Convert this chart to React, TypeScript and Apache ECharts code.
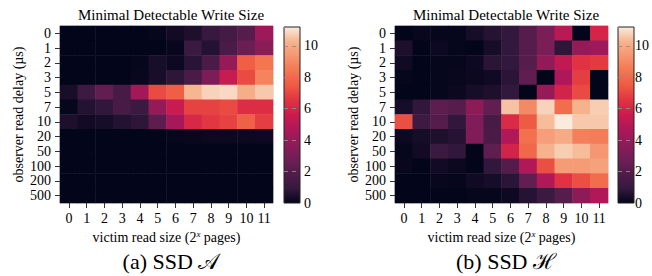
import React, { useEffect, useRef } from 'react';
import * as echarts from 'echarts';

const xLabels = ['0', '1', '2', '3', '4', '5', '6', '7', '8', '9', '10', '11'];
const yLabels = ['0', '1', '2', '3', '5', '7', '10', '20', '50', '100', '200', '500'];
const colorbarTicks = [0, 2, 4, 6, 8, 10];

const ssdA: number[][] = [
  [0, 0, 0, 0, 0, 0.05, 0.3, 0.5, 1.0, 1.4, 2.0, 4.2],
  [0, 0, 0, 0, 0, 0, 0.1, 1.1, 0.6, 1.6, 2.6, 3.6],
  [0, 0, 0, 0, 0.05, 0.4, 0.2, 0.7, 1.6, 4.0, 7.6, 8.4],
  [0, 0, 0, 0, 0.1, 0.4, 0.8, 1.6, 3.2, 5.5, 7.1, 8.8],
  [0.4, 1.2, 2.4, 1.5, 4.4, 7.1, 7.6, 10.3, 10.8, 10.9, 10.1, 10.6],
  [0.05, 0.6, 0.85, 1.5, 1.1, 3.9, 5.5, 6.9, 6.9, 7.1, 6.3, 6.3],
  [0.5, 0.3, 0.35, 0.6, 0.8, 2.2, 4.5, 6.1, 6.6, 6.9, 7.7, 6.8],
  [0, 0, 0, 0, 0, 0, 0.05, 0.1, 0.15, 0.15, 0.15, 0.2],
  [0, 0, 0, 0, 0, 0, 0, 0, 0, 0, 0, 0],
  [0, 0, 0, 0, 0, 0, 0, 0, 0, 0, 0, 0],
  [0, 0, 0, 0, 0, 0, 0, 0, 0, 0, 0, 0],
  [0, 0, 0, 0, 0, 0, 0, 0, 0, 0, 0, 0],
];

const ssdH: number[][] = [
  [0, 0.1, 0.05, 0.05, 0.35, 0.65, 0.9, 2.0, 3.2, 5.1, 0, 6.0],
  [0.5, 0, 0.2, 0.05, 0, 0.35, 0.9, 2.0, 3.1, 0.8, 3.9, 4.2],
  [0.25, 0, 0.05, 0.05, 0.2, 0.75, 0.9, 2.0, 3.8, 5.3, 6.5, 6.7],
  [0.05, 0, 0.05, 0.1, 0.15, 0.25, 0.75, 2.3, 0, 4.7, 6.8, 0],
  [0, 0, 0.05, 0.15, 0.35, 0.5, 0.9, 0, 3.9, 5.9, 7.1, 0],
  [0.35, 0.85, 2.2, 2.0, 3.7, 2.4, 10.5, 9.0, 10.8, 8.1, 10.2, 10.7],
  [7.2, 1.2, 2.0, 0.85, 3.3, 1.5, 6.2, 7.5, 10.4, 11.2, 10.6, 10.6],
  [0.2, 0.35, 0.5, 0.65, 3.3, 1.6, 4.8, 8.2, 9.6, 10.0, 8.7, 8.6],
  [0.05, 0.3, 1.1, 0.85, 0, 2.3, 5.9, 7.9, 10.2, 10.7, 10.4, 9.4],
  [0.1, 0, 0.3, 0.15, 0, 0.85, 1.9, 4.8, 7.2, 9.5, 9.5, 9.7],
  [0, 0, 0.1, 0.05, 0.25, 0.35, 0.75, 2.4, 4.8, 6.5, 7.2, 8.1],
  [0, 0, 0, 0, 0.05, 0.05, 0.2, 0.65, 1.1, 2.0, 3.7, 4.8],
];

const vMax = 11.2;

const rocket = [
  '#03051A', '#35193E', '#521C4A', '#701F57', '#8E1B58', '#AD1759', '#CB1B4F',
  '#E13342', '#EE5A43', '#F37651', '#F59570', '#F6B48F', '#FAEBDD',
];

const serif = 'Liberation Serif';

function toCells(m: number[][]) {
  const out: number[][] = [];
  m.forEach((row, yi) => row.forEach((v, xi) => out.push([xi, yi, v])));
  return out;
}

function heatX(gi: number) {
  return {
    type: 'category',
    gridIndex: gi,
    data: xLabels,
    position: 'bottom',
    axisLine: { show: false },
    axisTick: { show: true, alignWithLabel: true, length: 5, lineStyle: { color: '#333' } },
    axisLabel: { fontFamily: serif, fontSize: 14, color: '#000', margin: 8, interval: 0 },
    splitLine: { show: false },
    name: 'victim read size (2{sup|x} pages)',
    nameLocation: 'middle',
    nameGap: 26,
    nameTextStyle: {
      fontFamily: serif,
      fontSize: 14,
      color: '#000',
      rich: {
        sup: { fontFamily: serif, fontSize: 9, fontStyle: 'italic', color: '#000', verticalAlign: 'top', lineHeight: 16 },
      },
    },
  };
}

function heatY(gi: number) {
  return {
    type: 'category',
    gridIndex: gi,
    data: yLabels,
    inverse: true,
    axisLine: { show: false },
    axisTick: { show: true, alignWithLabel: true, length: 5, lineStyle: { color: '#333' } },
    axisLabel: { fontFamily: serif, fontSize: 14, color: '#000', margin: 9, interval: 0 },
    splitLine: { show: false },
    name: 'observer read delay (µs)',
    nameLocation: 'middle',
    nameGap: 35,
    nameRotate: 90,
    nameTextStyle: { fontFamily: serif, fontSize: 14, color: '#000' },
  };
}

function cbarY(gi: number) {
  return {
    type: 'value',
    gridIndex: gi,
    min: 0,
    max: vMax,
    interval: 2,
    position: 'right',
    z: 10,
    axisLine: { show: false },
    axisTick: { show: false },
    axisLabel: {
      fontFamily: serif,
      fontSize: 14,
      color: '#000',
      margin: 4,
      showMaxLabel: false,
      formatter: (v: number) => (colorbarTicks.includes(v) ? String(v) : ''),
    },
    splitLine: { show: true, lineStyle: { color: 'rgba(140,140,140,0.9)', width: 1, type: [4, 4] } },
  };
}

function gradientStops() {
  return rocket.map((c, i) => ({ offset: i / (rocket.length - 1), color: c }));
}

export default function App() {
  const ref = useRef<HTMLDivElement>(null);
  useEffect(() => {
    if (!ref.current) return;
    const chart = echarts.init(ref.current, undefined, { renderer: 'svg' });
    const gridStyle = { show: true, borderColor: '#c8c8c8', borderWidth: 1, backgroundColor: 'transparent' };
    chart.setOption({
      animation: false,
      title: [
        { text: 'Minimal Detectable Write Size', left: 166, top: 2, textAlign: 'center',
          textStyle: { fontFamily: serif, fontSize: 15, fontWeight: 'normal', color: '#000' } },
        { text: 'Minimal Detectable Write Size', left: 501, top: 2, textAlign: 'center',
          textStyle: { fontFamily: serif, fontSize: 15, fontWeight: 'normal', color: '#000' } },
      ],
      grid: [
        { left: 60, top: 26, width: 213, height: 177, ...gridStyle },
        { left: 395, top: 26, width: 213, height: 177, ...gridStyle },
        { left: 284, top: 27, width: 16, height: 176, show: false },
        { left: 618, top: 27, width: 16, height: 176, show: false },
      ],
      xAxis: [
        heatX(0),
        heatX(1),
        { type: 'value', gridIndex: 2, show: false, min: 0, max: 1 },
        { type: 'value', gridIndex: 3, show: false, min: 0, max: 1 },
      ],
      yAxis: [heatY(0), heatY(1), cbarY(2), cbarY(3)],
      visualMap: [
        { type: 'continuous', min: 0, max: vMax, seriesIndex: 0, show: false, inRange: { color: rocket } },
        { type: 'continuous', min: 0, max: vMax, seriesIndex: 1, show: false, inRange: { color: rocket } },
      ],
      series: [
        { type: 'heatmap', xAxisIndex: 0, yAxisIndex: 0, data: toCells(ssdA), emphasis: { disabled: true }, itemStyle: { borderWidth: 0 } },
        { type: 'heatmap', xAxisIndex: 1, yAxisIndex: 1, data: toCells(ssdH), emphasis: { disabled: true }, itemStyle: { borderWidth: 0 } },
      ],
      graphic: [
        { type: 'rect', z: 1, shape: { x: 284, y: 27, width: 16, height: 176 },
          style: { fill: new echarts.graphic.LinearGradient(0, 1, 0, 0, gradientStops()), stroke: '#222', lineWidth: 1 } },
        { type: 'rect', z: 1, shape: { x: 618, y: 27, width: 16, height: 176 },
          style: { fill: new echarts.graphic.LinearGradient(0, 1, 0, 0, gradientStops()), stroke: '#222', lineWidth: 1 } },
        { type: 'text', x: 171, y: 261, z: 5,
          style: { text: '(a) SSD 𝒜', font: `22px "${serif}"`, fill: '#000', textAlign: 'center', textVerticalAlign: 'middle' } },
        { type: 'text', x: 506, y: 261, z: 5,
          style: { text: '(b) SSD ℋ', font: `22px "${serif}"`, fill: '#000', textAlign: 'center', textVerticalAlign: 'middle' } },
      ],
    });
    return () => chart.dispose();
  }, []);
  return <div ref={ref} style={{ position: 'absolute', left: 0, top: 0, width: 652, height: 276 }} />;
}
